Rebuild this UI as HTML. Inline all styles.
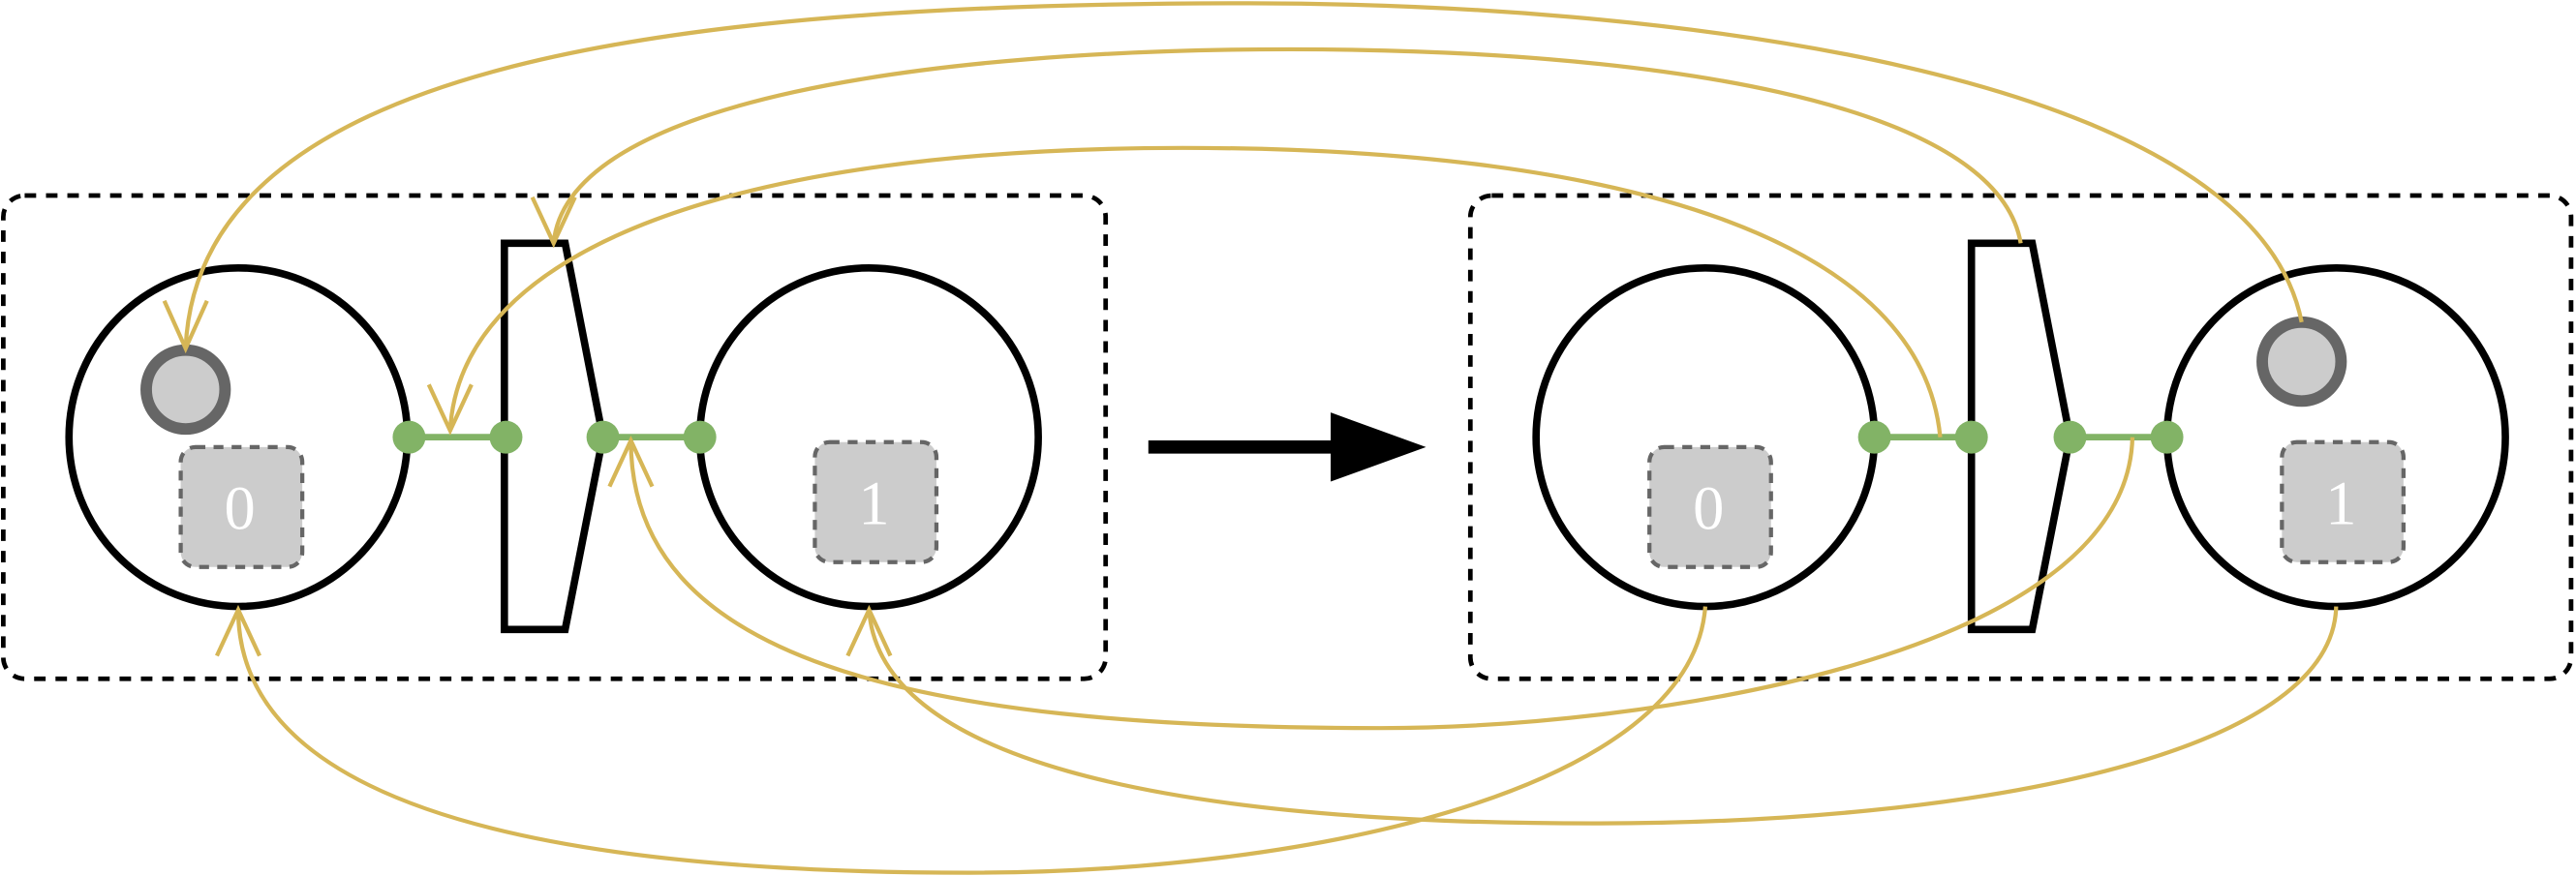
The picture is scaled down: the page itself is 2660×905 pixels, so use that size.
<!DOCTYPE html>
<html><head><style>html,body{margin:0;padding:0;background:#fff}svg{display:block}</style></head>
<body>
<svg width="2660" height="905" viewBox="0 0 1568 533" preserveAspectRatio="none" xmlns="http://www.w3.org/2000/svg">
<g fill="none" stroke="#000" stroke-width="2.8" stroke-dasharray="7,6">
<rect x="2" y="119" width="671" height="294" rx="13"/>
<rect x="895" y="119" width="670" height="294" rx="13"/>
</g>
<g fill="none" stroke="#000" stroke-width="4.5">
<circle cx="145" cy="266" r="103"/><circle cx="529" cy="266" r="103"/>
<circle cx="1038" cy="266" r="103"/><circle cx="1422" cy="266" r="103"/>
<polygon points="307,148 344,148 367,266 344,383 307,383"/>
<polygon points="1200,148 1237,148 1260,266 1237,383 1200,383"/>
</g>
<g stroke="#82b366" stroke-width="4" fill="#82b366">
<line x1="249" y1="266" x2="308" y2="266"/><line x1="367" y1="266" x2="426" y2="266"/>
<line x1="1141" y1="266" x2="1200" y2="266"/><line x1="1260" y1="266" x2="1319" y2="266"/>
<g stroke="none">
<circle cx="249" cy="266" r="10"/><circle cx="308" cy="266" r="10"/><circle cx="367" cy="266" r="10"/><circle cx="426" cy="266" r="10"/>
<circle cx="1141" cy="266" r="10"/><circle cx="1200" cy="266" r="10"/><circle cx="1260" cy="266" r="10"/><circle cx="1319" cy="266" r="10"/>
</g></g>
<g fill="#ccc" stroke="#666" stroke-width="7">
<circle cx="113" cy="237" r="24"/><circle cx="1401" cy="220" r="24"/>
</g>
<g fill="#ccc" stroke="#666" stroke-width="2.5" stroke-dasharray="6,5">
<rect x="110" y="272" width="74" height="73" rx="9"/>
<rect x="496" y="269" width="74" height="73" rx="9"/>
<rect x="1004" y="272" width="74" height="73" rx="9"/>
<rect x="1389" y="269" width="74" height="73" rx="9"/>
</g>
<g fill="#fff" font-family="'Liberation Serif',serif" font-size="38" text-anchor="middle">
<text x="146" y="322">0</text><text x="532" y="319">1</text>
<text x="1040" y="322">0</text><text x="1425" y="319">1</text>
</g>
<line x1="699" y1="272" x2="812" y2="272" stroke="#000" stroke-width="8"/>
<polygon points="810,251 868,272 810,293" fill="#000"/>
<g fill="none" stroke="#d6b656" stroke-width="2.5">
<path d="M1230 148 C1215 60 1000 30 785 30 C570 30 345 60 337 148"/>
<path d="M1401 196 C1370 40 1000 2 760 2 C400 2 120 40 113 212"/>
<path d="M1181 266 C1170 150 1000 90 720 90 C450 90 280 150 274 262"/>
<path d="M1298 266 C1295 400 1000 443 840 443 C550 443 384 400 384 268"/>
<path d="M1038 369 C1030 480 800 531 590 531 C300 531 145 480 145 371"/>
<path d="M1422 369 C1420 460 1200 501 970 501 C700 501 535 460 529 371"/>
<polyline points="100,183 113,212 126,183"/>
<polyline points="324,120 337,148 350,120"/>
<polyline points="261,234 274,262 287,234"/>
<polyline points="371,296 384,268 397,296"/>
<polyline points="132,399 145,371 158,399"/>
<polyline points="516,399 529,371 542,399"/>
</g>
</svg>
</body></html>
